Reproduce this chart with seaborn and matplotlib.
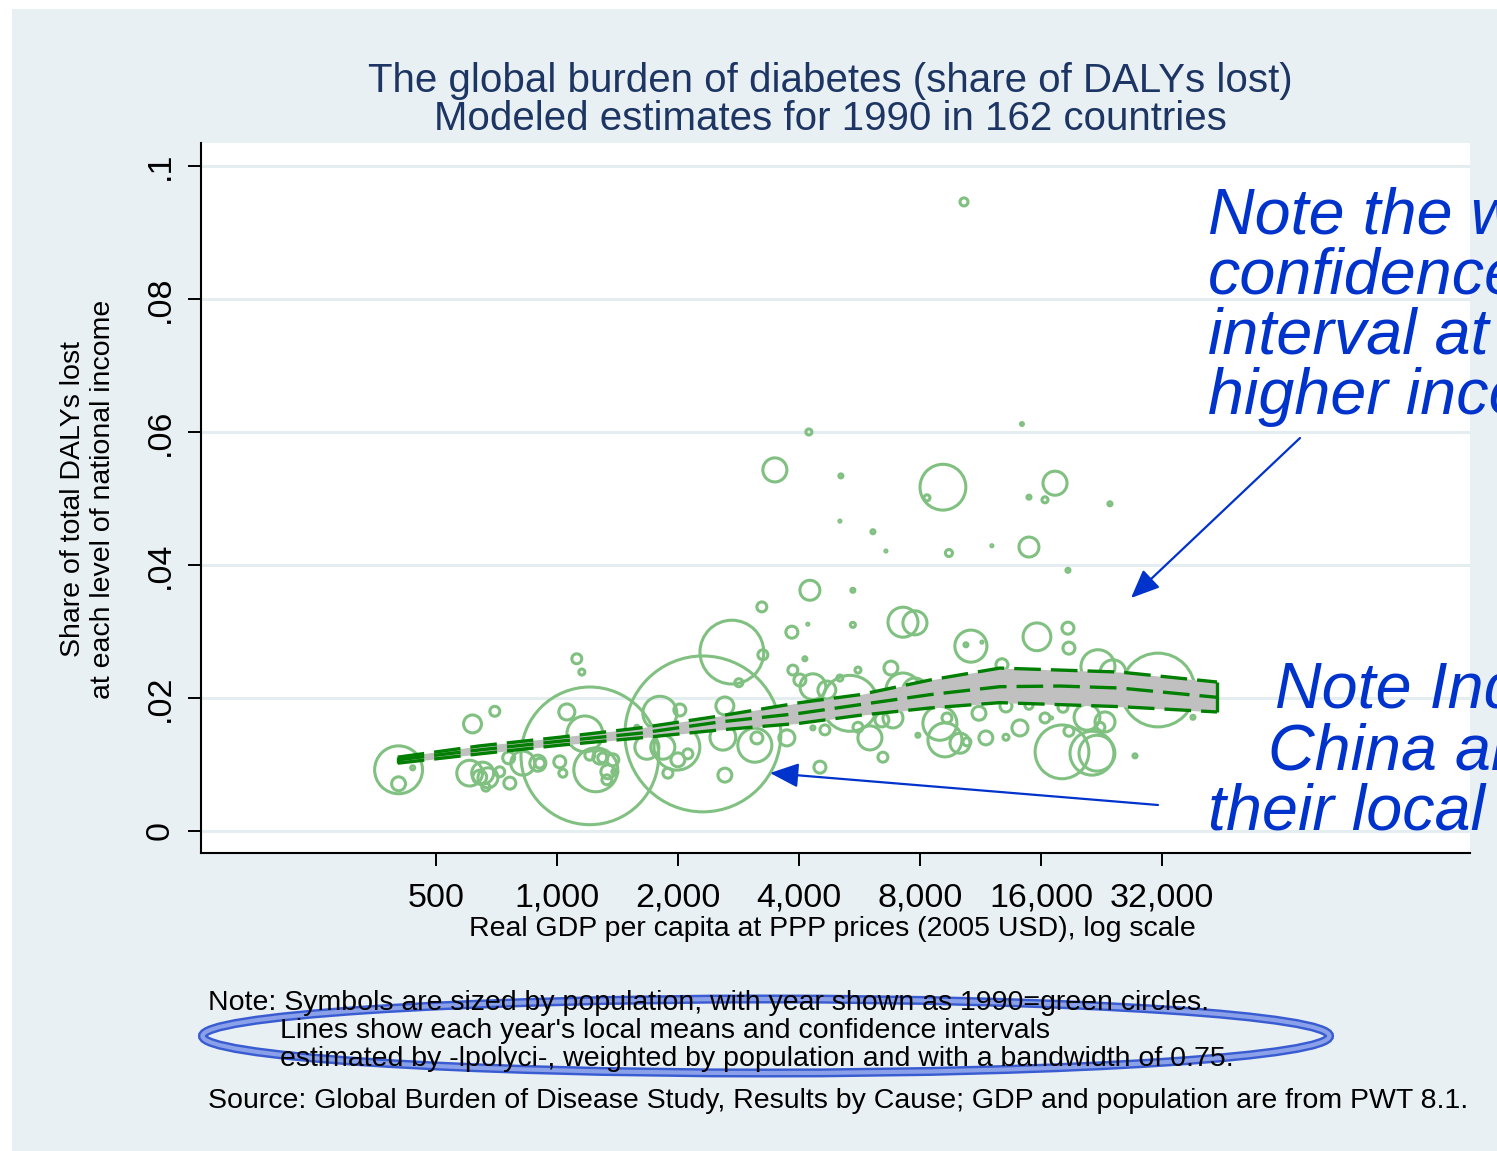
import numpy as np
import pandas as pd
import matplotlib
matplotlib.use("Agg")
import matplotlib.pyplot as plt
from matplotlib.patches import Rectangle, Ellipse
from matplotlib.ticker import FuncFormatter, NullLocator
import seaborn as sns

# ---- country observations, 1990: GDP per capita, DALY share, population (millions)
gdp = [404, 404, 438, 617, 701, 1121, 1154, 607, 654, 674, 666, 721, 764, 759, 643,
       823, 897, 907, 1017, 1035, 1208, 1059, 1174, 1250, 1208, 1279, 1301, 1378, 1339,
       1332, 1394, 1581, 2308, 2725, 3235, 3842, 4210, 5449, 4140, 3254, 2836, 3864,
       4023, 4334, 4695, 5059, 5356, 5610, 6776, 7260, 7775, 2618, 2023, 1804, 1989,
       1835, 2118, 2000, 1889, 1675, 2618, 3145, 3108, 2588, 3734, 4512, 4643, 4334,
       5610, 6008, 6472, 6435, 6855, 7907, 3486, 4236, 5088, 9127, 8329, 14939, 14352,
       5059, 6113, 6585, 9447, 12080, 14939, 4260, 5449, 7260, 7775, 10297, 16373,
       17342, 23756, 18676, 10712, 10412, 11410, 15638, 18676, 18782, 12798, 22177,
       24166, 31276, 11219, 13095, 14939, 18150, 8970, 9233, 9340, 10064, 10470, 11671,
       14186, 13095, 16373, 20826, 23090, 18050, 18782, 21427, 22051, 27416, 38210,
       22430, 17000]
share = [.0092, .0071, .0095, .0161, .0180, .0259, .0239, .0087, .0087, .0080, .0066,
         .0089, .0072, .0110, .0081, .0102, .0102, .0102, .0104, .0087, .0113, .0179,
         .0146, .0092, .0114, .0111, .0110, .0107, .0089, .0077, .0089, .0156, .0146,
         .0269, .0337, .0299, .0311, .0310, .0259, .0265, .0223, .0242, .0227, .0217,
         .0212, .0230, .0192, .0242, .0245, .0212, .0212, .0188, .0182, .0177, .0126,
         .0126, .0116, .0107, .0087, .0126, .0084, .0140, .0129, .0141, .0140, .0096,
         .0152, .0155, .0156, .0140, .0111, .0167, .0170, .0144, .0543, .0600, .0534,
         .0517, .0501, .0502, .0612, .0466, .0450, .0421, .0418, .0429, .0427, .0362,
         .0362, .0314, .0313, .0946, .0498, .0523, .0492, .0392, .0278, .0280, .0284,
         .0292, .0305, .0275, .0250, .0247, .0238, .0212, .0177, .0188, .0189, .0186,
         .0162, .0137, .0170, .0132, .0134, .0140, .0155, .0141, .0170, .0171, .0164,
         .0119, .0150, .0117, .0117, .0113, .0171, .0156, .0170]
pop = [107, 9, 0.75, 15, 4.6, 4.6, 1.7, 31, 22.5, 18.6, 3, 4.6, 6.7, 6.7, 9,
       27, 12, 4.6, 6.7, 3, 885, 12, 60, 90, 4.6, 9, 4.6, 6.7, 9,
       4.6, 1.7, 0.75, 1135, 190, 4.6, 6.7, 0.2, 1.2, 0.75, 4.6, 3, 4.6,
       6.7, 31, 15, 1.7, 146, 1.7, 9, 54, 27, 15, 6.7, 54, 98,
       27, 4.6, 9, 4.6, 27, 9, 6.7, 54, 31, 12, 6.7, 4.6, 0.75,
       4.6, 27, 4.6, 9, 18.6, 0.75, 27, 1.7, 0.75, 98, 1.7, 0.75, 0.4,
       0.2, 0.75, 0.2, 2.3, 0.2, 18.6, 18.6, 0.75, 42, 27, 3, 1.7,
       27, 0.75, 0.75, 48, 0.75, 0.2, 36, 6.7, 6.7, 6.7, 54,
       31, 254, 9, 6.7, 3, 4.6, 54, 54, 4.6, 18.6, 3, 9,
       12, 1.7, 4.6, 31, 18.6, 135, 4.6, 90, 60, 0.75, 0.75,
       4.6, 0.2]

# ---- local polynomial mean with 95% confidence band
lp_gdp = [402, 643, 1017, 1609, 2544, 4023, 5674, 8471, 12650, 17840, 25160, 43860]
lp_mean = [.0107, .0122, .0135, .0147, .0164, .0177, .0190, .0205, .0217, .0218, .0215, .0201]
lp_hi = [.0111, .0128, .0141, .0155, .0173, .0193, .0205, .0227, .0245, .0242, .0239, .0224]
lp_lo = [.0102, .0116, .0129, .0140, .0152, .0162, .0174, .0185, .0193, .0190, .0187, .0179]

x_ticks = [500, 1000, 2000, 4000, 8000, 16000, 32000]
y_ticks = [0, .02, .04, .06, .08, .1]
y_ticklabels = ["0", ".02", ".04", ".06", ".08", ".1"]

title_lines = ["The global burden of diabetes (share of DALYs lost)",
               "Modeled estimates for 1990 in 162 countries"]
ylabel_lines = ["Share of total DALYs lost", "at each level of national income"]
xlabel = "Real GDP per capita at PPP prices (2005 USD), log scale"
note_lines = ["Note: Symbols are sized by population, with year shown as 1990=green circles.",
              "Lines show each year's local means and confidence intervals",
              "estimated by -lpolyci-, weighted by population and with a bandwidth of 0.75."]
source_line = "Source: Global Burden of Disease Study, Results by Cause; GDP and population are from PWT 8.1."
callout_ci = ["Note the wider", "confidence", "interval at", "higher incomes"]
callout_big = ["Note India and", "China are below", "their local means"]

# ---- styling
W, H = 1497, 1151
BG = "#e9f0f3"
GRID = "#e4edf0"
CIRCLE = "#80c080"
LINE = "#007f00"
BAND = "#c0c0c0"
NAVY = "#1c3563"
BLUE = "#0033cc"

sns.set_theme(style="white")
plt.rcParams["font.family"] = ["Liberation Sans", "DejaVu Sans"]


def fx(px):
    return px / W


def fy(py):
    return 1 - py / H


fig = plt.figure(figsize=(W / 100, H / 100), dpi=100, facecolor="white")
fig.add_artist(Rectangle((fx(12), fy(1151)), 1 - fx(12), fy(9) - fy(1151),
                         transform=fig.transFigure, facecolor=BG, edgecolor="none",
                         zorder=-10))

ax = fig.add_axes([fx(201), fy(853), fx(1470) - fx(201), fy(143) - fy(853)])
ax.set_facecolor("white")

df = pd.DataFrame({"gdp": gdp, "share": share, "pop": pop})
lp = pd.DataFrame({"gdp": lp_gdp, "mean": lp_mean, "hi": lp_hi, "lo": lp_lo})

# population-weighted hollow circles (area proportional to population)
sns.scatterplot(data=df, x="gdp", y="share", size="pop",
                sizes=(0, 11.1 * 1135), size_norm=(0, 1135),
                color=CIRCLE, facecolor="none", edgecolor=CIRCLE,
                linewidth=2.2, legend=False, ax=ax, zorder=2)

# confidence band and local mean
ax.fill_between(lp["gdp"], lp["lo"], lp["hi"], color=BAND, linewidth=0, zorder=3)
dash = (0, (8, 3))
for col in ["hi", "mean", "lo"]:
    sns.lineplot(data=lp, x="gdp", y=col, color=LINE, linewidth=2.4,
                 linestyle=dash, ax=ax, zorder=4, sort=False)
ax.vlines([lp_gdp[0], lp_gdp[-1]], [lp_lo[0], lp_lo[-1]], [lp_hi[0], lp_hi[-1]],
          color=LINE, linewidth=2.4, zorder=4)

ax.set_xscale("log")
ax.set_xlim(130.3, 186770)
ax.set_ylim(-0.00331, 0.10346)
ax.set_xticks(x_ticks)
ax.xaxis.set_major_formatter(FuncFormatter(lambda v, p: f"{int(round(v)):,}"))
ax.xaxis.set_minor_locator(NullLocator())
ax.set_yticks(y_ticks)
ax.set_yticklabels(y_ticklabels, rotation=90, va="center")
ax.set_xlabel("")
ax.set_ylabel("")
ax.grid(axis="y", color=GRID, linewidth=2.2, zorder=0)
ax.grid(axis="x", visible=False)
ax.set_axisbelow(True)
for s in ["top", "right"]:
    ax.spines[s].set_visible(False)
for s in ["left", "bottom"]:
    ax.spines[s].set_color("black")
    ax.spines[s].set_linewidth(1.5)
ax.tick_params(axis="both", which="major", length=9.4, width=1.4, color="black",
               labelsize=24.5, labelcolor="black", direction="out")
ax.tick_params(axis="x", pad=12)
ax.tick_params(axis="y", pad=9)
ax.tick_params(left=True, bottom=True)

# titles and axis titles
fig.text(fx(830), fy(92), title_lines[0], ha="center", va="baseline",
         fontsize=29, color=NAVY)
fig.text(fx(830), fy(130), title_lines[1], ha="center", va="baseline",
         fontsize=29, color=NAVY)
fig.text(fx(832), fy(929), xlabel, ha="center", va="center", fontsize=20.5,
         color="black")
fig.text(fx(73), fy(499), ylabel_lines[0], ha="center", va="center", rotation=90,
         fontsize=20.5, color="black")
fig.text(fx(103), fy(499), ylabel_lines[1], ha="center", va="center", rotation=90,
         fontsize=20.5, color="black")

# notes under the chart
fig.add_artist(Ellipse((fx(766), fy(1036)), 1127 / W, 74 / H, transform=fig.transFigure,
                       facecolor="none", edgecolor="#3a5cd2", linewidth=6.5, zorder=1))
fig.add_artist(Ellipse((fx(766), fy(1036)), 1127 / W, 74 / H, transform=fig.transFigure,
                       facecolor="none", edgecolor="#8aa0e8", linewidth=3.0, zorder=1))
fig.text(fx(208), fy(1010), note_lines[0], ha="left", va="baseline", fontsize=20.5,
         color="black", zorder=3)
fig.text(fx(280), fy(1038), note_lines[1], ha="left", va="baseline", fontsize=20.5,
         color="black", zorder=3)
fig.text(fx(280), fy(1066), note_lines[2], ha="left", va="baseline", fontsize=20.5,
         color="black", zorder=3)
fig.text(fx(208), fy(1108), source_line, ha="left", va="baseline", fontsize=20.5,
         color="black", zorder=3)

# call-outs (they run past the right edge of the canvas)
for i, line in enumerate(callout_ci):
    fig.text(fx(1208), fy(234 + 60 * i), line, ha="left", va="baseline",
             fontsize=46.5, style="italic", color=BLUE)
big_x = [1275, 1268, 1208]
for i, line in enumerate(callout_big):
    fig.text(fx(big_x[i]), fy(708 + 61 * i), line, ha="left", va="baseline",
             fontsize=46.5, style="italic", color=BLUE)

arrow = dict(arrowstyle="-|>,head_length=0.7,head_width=0.3", color=BLUE, lw=1.6,
             mutation_scale=25, shrinkA=0, shrinkB=0)
ax.annotate("", xy=(1131, H - 598), xytext=(1300, H - 438), xycoords="figure pixels",
            textcoords="figure pixels", arrowprops=arrow, annotation_clip=False)
ax.annotate("", xy=(770, H - 773), xytext=(1158, H - 805), xycoords="figure pixels",
            textcoords="figure pixels", arrowprops=arrow, annotation_clip=False)

fig.savefig("out.png", dpi=100, facecolor="white")
